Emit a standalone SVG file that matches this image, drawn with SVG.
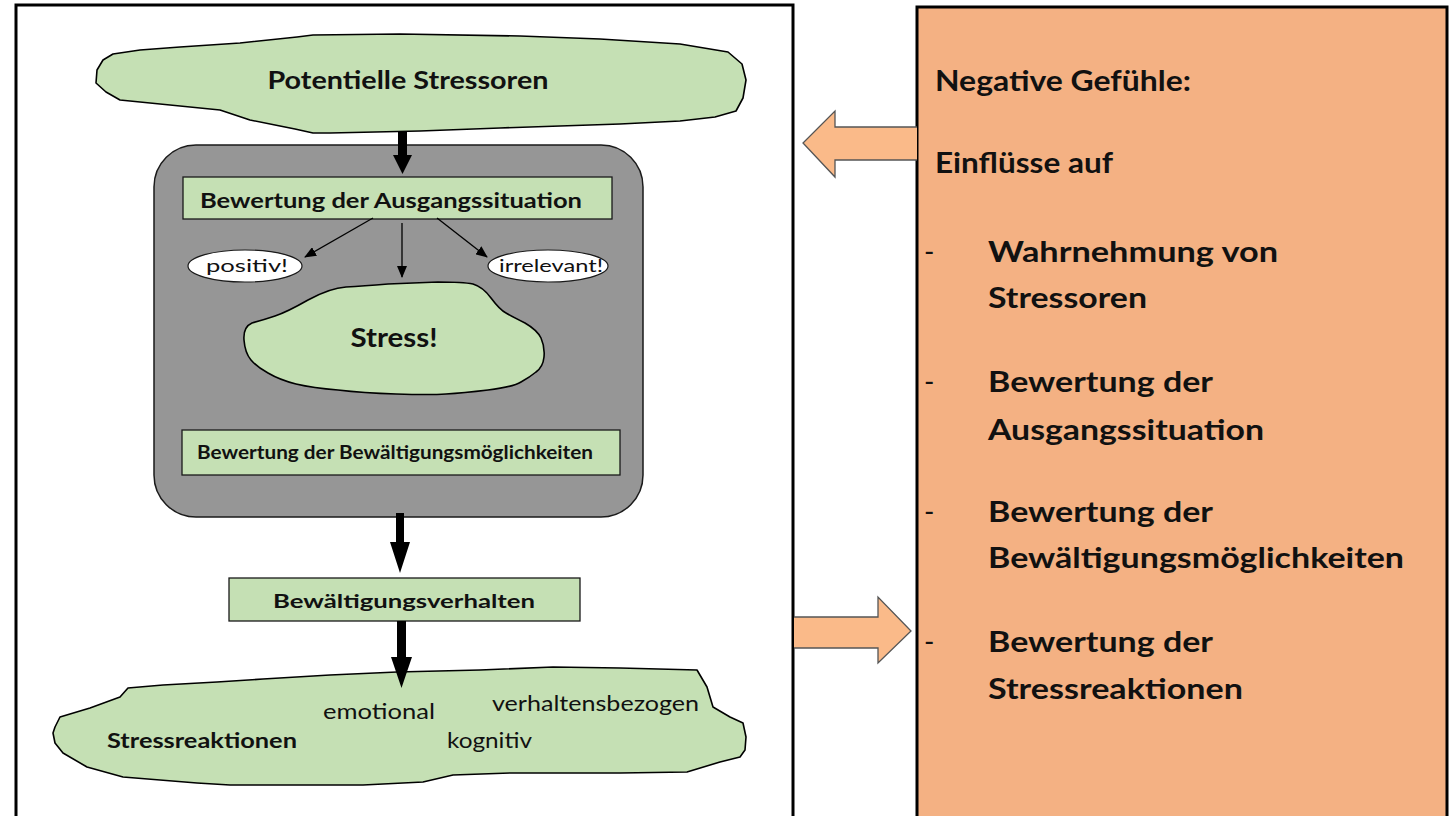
<svg xmlns="http://www.w3.org/2000/svg" width="1450" height="816" viewBox="0 0 1450 816">
  <style>
    .frame { fill: #ffffff; stroke: #000000; stroke-width: 3; }
    .panel { fill: #F4B183; stroke: #000000; stroke-width: 3; }
    .cloud { fill: #C5E0B4; stroke: #000000; stroke-width: 1.6; stroke-linejoin: round; }
    .box { fill: #C5E0B4; stroke: #1a1a1a; stroke-width: 1.3; }
    .group { fill: #969696; stroke: #1a1a1a; stroke-width: 1.5; }
    .oval { fill: #ffffff; stroke: #1a1a1a; stroke-width: 1.2; }
    .block { fill: #FABA89; stroke: #555555; stroke-width: 1.3; stroke-linejoin: miter; }
    .thick { fill: #000000; }
    .thin { stroke: #000000; stroke-width: 1.3; fill: none; marker-end: url(#tip); }
    text { font-family: Lato, "Open Sans", "Liberation Sans", sans-serif; fill: #111111; }
    .b { font-weight: bold; }
    .r { font-weight: normal; }
  </style>
  <defs>
    <marker id="tip" viewBox="0 0 12 10" refX="11" refY="5" markerWidth="12" markerHeight="10" markerUnits="userSpaceOnUse" orient="auto">
      <path d="M0,0 L12,5 L0,10 Z" fill="#000000"/>
    </marker>
  </defs>

  <!-- left frame and right side panel -->
  <rect class="frame" x="16" y="5" width="777" height="820"/>

  <g id="panel-gefuehle">
    <rect class="panel" x="917" y="7" width="530" height="820"/>
    <text class="b" x="935" y="91" font-size="28" textLength="256" lengthAdjust="spacingAndGlyphs">Negative Gefühle:</text>
    <text class="b" x="935" y="173" font-size="28" textLength="178" lengthAdjust="spacingAndGlyphs">Einflüsse auf</text>
    <text class="r" x="924" y="262" font-size="28">-</text>
    <text class="b" x="988" y="262" font-size="28" textLength="290" lengthAdjust="spacingAndGlyphs">Wahrnehmung von</text>
    <text class="b" x="988" y="308" font-size="28" textLength="159" lengthAdjust="spacingAndGlyphs">Stressoren</text>
    <text class="r" x="924" y="392" font-size="28">-</text>
    <text class="b" x="988" y="392" font-size="28" textLength="225" lengthAdjust="spacingAndGlyphs">Bewertung der</text>
    <text class="b" x="988" y="440" font-size="28" textLength="276" lengthAdjust="spacingAndGlyphs">Ausgangssituation</text>
    <text class="r" x="924" y="522" font-size="28">-</text>
    <text class="b" x="988" y="522" font-size="28" textLength="225" lengthAdjust="spacingAndGlyphs">Bewertung der</text>
    <text class="b" x="988" y="568" font-size="28" textLength="416" lengthAdjust="spacingAndGlyphs">Bewältigungsmöglichkeiten</text>
    <text class="r" x="924" y="652" font-size="28">-</text>
    <text class="b" x="988" y="652" font-size="28" textLength="225" lengthAdjust="spacingAndGlyphs">Bewertung der</text>
    <text class="b" x="988" y="699" font-size="28" textLength="255" lengthAdjust="spacingAndGlyphs">Stressreaktionen</text>
  </g>

  <!-- gray appraisal container -->
  <g id="bewertung-gruppe">
    <rect class="group" x="154" y="145" width="489" height="372" rx="42" ry="42"/>
  </g>

  <g id="stressoren">
    <path class="cloud" d="M97,70 L103,60 L113,54 L140,50 L180,47 L240,43 L297,37 L313,35 L400,34 L520,36 L600,39 L680,44 L728,52 L742,64 L746,80 L743,98 L736,111 L715,117 L680,121 L620,124 L560,126 L500,128 L420,131 L330,133 L313,133 L295,129 L280,126 L250,120 L220,110 L170,105 L120,100 L106,92 L96,83 Z"/>
    <text class="b" x="408" y="89" font-size="24" text-anchor="middle" textLength="281" lengthAdjust="spacingAndGlyphs">Potentielle Stressoren</text>
  </g>

  <g id="ausgangssituation">
    <rect class="box" x="183" y="177" width="429" height="42"/>
    <text class="b" x="200" y="208" font-size="21" textLength="382" lengthAdjust="spacingAndGlyphs">Bewertung der Ausgangssituation</text>
  </g>

  <g id="positiv">
    <ellipse class="oval" cx="245" cy="266" rx="57" ry="16"/>
    <text class="r" x="247" y="272" font-size="18" text-anchor="middle" textLength="82" lengthAdjust="spacingAndGlyphs">positiv!</text>
  </g>

  <g id="irrelevant">
    <ellipse class="oval" cx="548" cy="266" rx="60" ry="16"/>
    <text class="r" x="551" y="272" font-size="18" text-anchor="middle" textLength="104" lengthAdjust="spacingAndGlyphs">irrelevant!</text>
  </g>

  <g id="stress">
    <path class="cloud" d="M252,323 Q263,320 275,316 Q287,312 308,300 Q330,288 346,287 Q363,286 388,284 Q413,283 438,282 Q463,282 473,284 Q483,287 491,298 Q500,310 506,313 Q513,317 525,323 Q537,330 541,338 Q545,347 544,357 Q543,367 536,372 Q530,377 521,382 Q513,387 488,390 Q463,393 446,394 Q430,395 396,394 Q363,393 338,390 Q313,388 296,384 Q280,380 268,373 Q257,367 251,360 Q245,353 244,340 Q243,327 252,323 Z"/>
    <text class="b" x="394" y="347" font-size="27" text-anchor="middle" textLength="87" lengthAdjust="spacingAndGlyphs">Stress!</text>
  </g>

  <g id="bewaeltigungsmoeglichkeiten">
    <rect class="box" x="182" y="430" width="438" height="45"/>
    <text class="b" x="197" y="459" font-size="18" textLength="396" lengthAdjust="spacingAndGlyphs">Bewertung der Bewältigungsmöglichkeiten</text>
  </g>

  <g id="bewaeltigungsverhalten">
    <rect class="box" x="229" y="578" width="351" height="43"/>
    <text class="b" x="404" y="608" font-size="19" text-anchor="middle" textLength="262" lengthAdjust="spacingAndGlyphs">Bewältigungsverhalten</text>
  </g>

  <g id="stressreaktionen">
    <path class="cloud" d="M55,727 L60,717 L90,708 L120,697 L128,688 L163,685 L217,682 L263,679 L330,675 L397,672 L480,670 L553,667 L620,668 L697,670 L707,687 L713,707 L730,717 L743,723 L746,737 L745,750 L740,757 L720,762 L687,772 L620,773 L510,773 L453,775 L423,782 L363,785 L230,785 L197,783 L123,777 L87,767 L63,753 L55,743 L53,733 Z"/>
    <text class="b" x="107" y="748" font-size="20" textLength="190" lengthAdjust="spacingAndGlyphs">Stressreaktionen</text>
    <text class="r" x="323" y="719" font-size="21" textLength="112" lengthAdjust="spacingAndGlyphs">emotional</text>
    <text class="r" x="492" y="711" font-size="21" textLength="207" lengthAdjust="spacingAndGlyphs">verhaltensbezogen</text>
    <text class="r" x="447" y="748" font-size="21" textLength="85" lengthAdjust="spacingAndGlyphs">kognitiv</text>
  </g>

  <!-- connectors -->
  <g id="connectors">
    <!-- heavy flow arrows -->
    <path class="thick" d="M398,131 L407,131 L407,155 L412,155 L402.5,174 L393,155 L398,155 Z"/>
    <path class="thick" d="M396,513 L404,513 L404,542 L410,542 L400,573 L390,542 L396,542 Z"/>
    <path class="thick" d="M397,621 L406,621 L406,657 L412,657 L401.5,688 L391,657 L397,657 Z"/>
    <!-- appraisal outcomes -->
    <line class="thin" x1="373" y1="218" x2="305" y2="257"/>
    <line class="thin" x1="402" y1="223" x2="402" y2="277"/>
    <line class="thin" x1="437" y1="218" x2="487" y2="257"/>
    <!-- block arrows between panel and diagram -->
    <path class="block" d="M917,127 L835,127 L835,111 L803,143 L835,177 L835,160 L917,160"/>
    <path class="block" d="M794,617 L878,617 L878,597 L911,631 L878,663 L878,648 L794,648"/>
  </g>
</svg>
